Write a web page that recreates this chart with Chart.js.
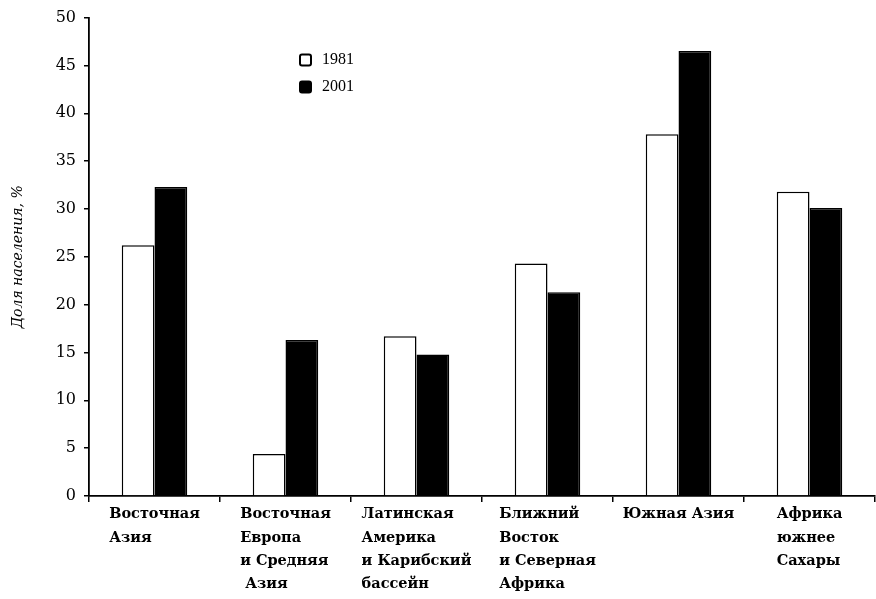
<!DOCTYPE html>
<html>
<head>
<meta charset="utf-8">
<script src="https://cdn.jsdelivr.net/npm/chart.js@4"></script>
<style>
  html, body { margin: 0; padding: 0; background: #fff; }
  canvas { display: block; }
</style>
</head>
<body>
<canvas id="myChart" width="876" height="599"></canvas>
<script>
const regions = [
  ['Восточная', 'Азия'],
  ['Восточная', 'Европа', 'и Средняя', ' Азия'],
  ['Латинская', 'Америка', 'и Карибский', 'бассейн'],
  ['Ближний', 'Восток', 'и Северная', 'Африка'],
  ['Южная Азия'],
  ['Африка', 'южнее', 'Сахары']
]
const years = ['1981', '2001']
const share1981 = [26.2, 4.4, 16.7, 24.3, 37.8, 31.8]
const share2001 = [32.3, 16.3, 14.8, 21.3, 46.5, 30.1]
const yTicks = [0, 5, 10, 15, 20, 25, 30, 35, 40, 45, 50]

const serif = '"DejaVu Serif", "Liberation Serif", serif'

// x labels: block centered under the category, lines left aligned
const leftBlockLabels = {
  id: 'leftBlockLabels',
  beforeDraw(chart) {
    const scale = chart.scales.x
    const ctx = chart.ctx
    scale.getLabelItems().forEach(item => {
      if (item._moved) return
      ctx.save()
      ctx.font = item.font.string
      const lines = Array.isArray(item.label) ? item.label : [item.label]
      const w = Math.max(...lines.map(l => ctx.measureText(l).width))
      ctx.restore()
      item.options.translation[0] -= w / 2
      item.options.textAlign = 'left'
      item._moved = true
    })
  }
}

// small legend inside the plot
const boxLegend = {
  id: 'boxLegend',
  afterDraw(chart) {
    const ctx = chart.ctx
    const x = chart.chartArea.left + 211
    let y = chart.chartArea.top + 42
    ctx.save()
    ctx.font = '16px "Liberation Serif", serif'
    ctx.textBaseline = 'middle'
    chart.data.datasets.forEach(ds => {
      ctx.fillStyle = ds.backgroundColor
      ctx.strokeStyle = '#000'
      ctx.lineWidth = 2
      ctx.beginPath()
      ctx.roundRect(x, y - 5, 11, 11, 2)
      ctx.fill()
      ctx.stroke()
      ctx.fillStyle = '#000'
      ctx.fillText(ds.label, x + 22, y)
      y += 27
    })
    ctx.restore()
  }
}

const ctx = document.getElementById('myChart')

const myChart = new Chart(ctx, {
  type: 'bar',
  data: {
    labels: regions,
    datasets: [{
      label: years[0],
      data: share1981,
      backgroundColor: '#fff',
      borderColor: '#000',
      borderWidth: 1.5,
      categoryPercentage: 0.5,
      barPercentage: 1.0
    }, {
      label: years[1],
      data: share2001,
      backgroundColor: '#000',
      borderColor: '#000',
      borderWidth: 1.5,
      categoryPercentage: 0.5,
      barPercentage: 1.0
    }]
  },
  options: {
    responsive: false,
    animation: false,
    layout: { padding: { top: 17, right: 1, left: 0, bottom: 0 } },
    plugins: {
      legend: { display: false },
      tooltip: { enabled: false }
    },
    scales: {
      x: {
        grid: { drawOnChartArea: false, drawTicks: true, tickLength: 6, color: '#000', lineWidth: 1.5 },
        border: { color: '#000', width: 1.8 },
        ticks: {
          color: '#000',
          padding: 1,
          maxRotation: 0,
          autoSkip: false,
          font: { family: serif, size: 14.5, weight: 'bold', lineHeight: 1.6 }
        },
        afterFit(scale) { scale.height = 103 }
      },
      y: {
        min: 0,
        max: 50,
        afterBuildTicks(scale) { scale.ticks = yTicks.map(v => ({ value: v })) },
        grid: { drawOnChartArea: false, drawTicks: true, tickLength: 5, color: '#000', lineWidth: 1.5 },
        border: { color: '#000', width: 1.8 },
        ticks: {
          color: '#000',
          padding: 8,
          font: { family: serif, size: 16 }
        },
        title: {
          display: true,
          text: 'Доля населения, %',
          color: '#000',
          padding: { top: 10, bottom: 0 },
          font: { family: serif, size: 14, style: 'italic' }
        },
        afterFit(scale) { scale.width = 89 }
      }
    }
  },
  plugins: [leftBlockLabels, boxLegend]
})
</script>
</body>
</html>
